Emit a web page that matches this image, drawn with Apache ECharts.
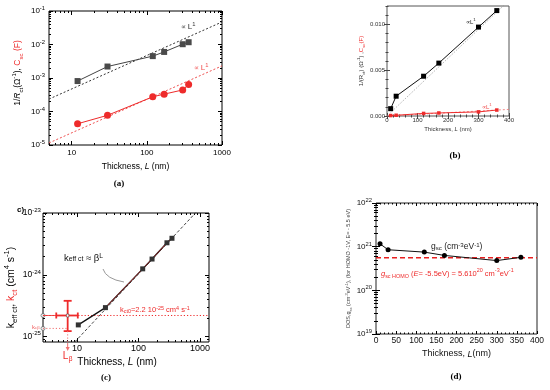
<!DOCTYPE html>
<html><head><meta charset="utf-8">
<script src="https://cdn.jsdelivr.net/npm/echarts@6/dist/echarts.min.js"></script>
<style>html,body{margin:0;padding:0;background:#fff}#c{width:550px;height:390px}</style>
</head><body><div id="c"></div>
<script>
// ---------------- DATA ----------------
// Panel (a): log-log, 1/Rct (gray squares) and Csc (red circles)
const thickA = [12, 30, 120, 170, 300, 360];
const invRctA = [8.1e-4, 2.2e-3, 4.5e-3, 6.0e-3, 1.02e-2, 1.17e-2];
const cscA = [4.3e-5, 7.7e-5, 2.75e-4, 3.3e-4, 4.4e-4, 6.4e-4];
const fitThickA = [5, 1000];
const fitRctA = [2.35e-4, 4.7e-2];
const fitCscA = [1.15e-5, 2.3e-3];

// Panel (b): linear axes
const thickB = [12, 30, 120, 170, 300, 360];
const invRctB = [0.0008, 0.00216, 0.00434, 0.00577, 0.0097, 0.0115];
const cscB = [0.00005, 0.00008, 0.00028, 0.00033, 0.00045, 0.00065];
const fitThickRctB = [12, 400];
const fitRctB = [0.00038, 0.0126];
const fitThickCscB = [0, 400];
const fitCscB = [0, 0.00072];

// Panel (c): keff ct vs thickness
const thickC = [10.5, 29, 117, 166, 290, 350];
const keffC = [1.55e-25, 2.95e-25, 1.25e-24, 1.8e-24, 3.3e-24, 3.9e-24];
const fitThickC = [9.2, 1000];
const fitKeffC = [8.2e-26, 1.2e-23];
const kct0 = 2.2e-25;
const kcBeta = 1.36e-25;
const lBeta = 7.05;
const lBetaErr = [4.6, 10.3];
const kct0Err = [1.23e-25, 3.8e-25];

// Panel (d): DOS vs thickness
const thickD = [10, 30, 120, 170, 300, 360];
const dosD = [1.16e21, 8.5e20, 7.5e20, 6.3e20, 4.8e20, 5.7e20];
const gHomo = 5.6e20;

// Axis ranges
const rangeAX = [5, 1000], rangeAY = [1e-5, 1e-1];
const rangeBX = [0, 400], rangeBY = [0, 0.012];
const rangeCX = [2.8, 1400], rangeCY = [8.2e-26, 1e-23];
const rangeDX = [0, 400], rangeDY = [1e19, 1e22];
const ticksBX = [0, 100, 200, 300, 400];
const ticksBY = [0, 0.005, 0.010];
const ticksDX = [0, 50, 100, 150, 200, 250, 300, 350, 400];
const decadesCY = [-25, -24, -23];

// ---------------- HELPERS ----------------
const FONT = '"Liberation Sans", Arial, Helvetica, sans-serif';
const SERIF = '"Liberation Serif", "Times New Roman", serif';
const RED = '#ee2b2b';
const lg = Math.log10;
const zip = (xs, ys) => xs.map((x, i) => [x, ys[i]]);

function logTicks(min, max) {
  const major = [], minor = [];
  for (let e = Math.floor(Math.log10(min)) - 1; e <= Math.ceil(Math.log10(max)); e++) {
    for (let m = 1; m < 10; m++) {
      const v = parseFloat(m + 'e' + e);
      if (v < min || v > max) continue;
      (m === 1 ? major : minor).push(v);
    }
  }
  return {major, minor};
}
function linTicks(min, max, step, majors) {
  const minor = [];
  const n = Math.round((max - min) / step);
  for (let i = 0; i <= n; i++) {
    const v = +(min + i * step).toFixed(8);
    if (!majors.some(m => Math.abs(m - v) < step / 100)) minor.push(v);
  }
  return minor;
}
function richSup(fs, color) {
  const s = Math.round(fs * 0.72 * 10) / 10;
  return {
    b: {fontSize: fs, fontFamily: FONT, color: color, lineHeight: Math.round(fs * 1.4)},
    s: {fontSize: s, fontFamily: FONT, color: color, lineHeight: s, verticalAlign: 'top'}
  };
}
function nameRich(fs, color, key) {
  key = key || 'color';
  const s = Math.round(fs * 0.72 * 10) / 10;
  const lh = Math.round(fs * 1.5);
  const mk = (o) => Object.assign({fontFamily: FONT}, o);
  const c = (col) => { const o = {}; o[key] = col; return o; };
  return {
    i: mk(Object.assign({fontSize: fs, fontStyle: 'italic', lineHeight: lh}, c(color))),
    sub: mk(Object.assign({fontSize: s, lineHeight: s, verticalAlign: 'bottom'}, c(color))),
    sup: mk(Object.assign({fontSize: s, lineHeight: s, verticalAlign: 'top'}, c(color))),
    n: mk(Object.assign({fontSize: fs, lineHeight: lh}, c(color))),
    r: mk(Object.assign({fontSize: fs, lineHeight: lh}, c(RED))),
    ri: mk(Object.assign({fontSize: fs, fontStyle: 'italic', lineHeight: lh}, c(RED))),
    rsub: mk(Object.assign({fontSize: s, lineHeight: s, verticalAlign: 'bottom'}, c(RED))),
    rsup: mk(Object.assign({fontSize: s, lineHeight: s, verticalAlign: 'top'}, c(RED)))
  };
}
const supFmt = v => '{b|10}{s|' + Math.round(Math.log10(v)) + '}';
const expFmt = v => '{b|10}{s|' + Math.round(v) + '}';

const xAxes = [], yAxes = [];
function addAxes(list, dim, grid, o) {
  const base = {gridIndex: grid, type: o.type, min: o.range[0], max: o.range[1],
    splitLine: {show: false}, axisLine: {show: false}, silent: true};
  if (o.type === 'log') base.logBase = 10;
  const pos = dim === 'x' ? ['bottom', 'top'] : ['left', 'right'];
  const tickStyle = {color: o.tickColor || '#000', width: 1};
  const idx = list.length;
  const lh = Math.round(o.nameSize * 1.5);
  list.push(Object.assign({}, base, {
    position: pos[0],
    name: o.name, nameLocation: 'middle', nameGap: o.nameGap, nameRotate: dim === 'y' ? 90 : 0,
    nameTextStyle: {fontSize: o.nameSize, color: o.nameColor || '#000', fontFamily: FONT, lineHeight: lh,
      rich: nameRich(o.nameSize, o.nameColor || '#000'), padding: o.namePad || 0},
    axisTick: {show: true, inside: true, length: o.tickLen, customValues: o.major, lineStyle: tickStyle},
    axisLabel: {show: true, customValues: o.labels || o.major, formatter: o.fmt, margin: o.margin,
      fontSize: o.labelSize, color: o.labelColor || '#000', fontFamily: FONT,
      rich: richSup(o.labelSize, o.labelColor || '#000'), showMinLabel: true, showMaxLabel: true, hideOverlap: false}
  }));
  const tk = (p, vals, len) => Object.assign({}, base, {position: p,
    axisTick: {show: true, inside: true, length: len, customValues: vals, lineStyle: tickStyle},
    axisLabel: {show: false}});
  list.push(tk(pos[0], o.minor, o.minorLen));
  list.push(tk(pos[1], o.major, o.tickLen));
  list.push(tk(pos[1], o.minor, o.minorLen));
  return idx;
}

// ---------------- GRIDS & AXES ----------------
const grids = [
  {left: 49, top: 11, width: 173, height: 134, show: true, borderColor: '#000', borderWidth: 1, backgroundColor: 'transparent'},
  {left: 387, top: 6, width: 122, height: 110, show: true, borderColor: '#555', borderWidth: 1, backgroundColor: 'transparent'},
  {left: 43, top: 213, width: 166, height: 129, show: true, borderColor: '#000', borderWidth: 1, backgroundColor: 'transparent'},
  {left: 376, top: 203, width: 161, height: 131, show: true, borderColor: '#222', borderWidth: 1, backgroundColor: 'transparent'}
];

const tAX = logTicks(rangeAX[0], rangeAX[1]), tAY = logTicks(rangeAY[0], rangeAY[1]);
const tCX = logTicks(rangeCX[0], rangeCX[1]), tCY = logTicks(rangeCY[0], rangeCY[1]);
const tDY = logTicks(rangeDY[0], rangeDY[1]);

const xA = addAxes(xAxes, 'x', 0, {type: 'log', range: rangeAX, major: tAX.major, minor: tAX.minor,
  tickLen: 4, minorLen: 2, fmt: v => String(v), margin: 4, labelSize: 8,
  name: 'Thickness, {i|L} (nm)', nameSize: 8.5, nameGap: 15});
const yA = addAxes(yAxes, 'y', 0, {type: 'log', range: rangeAY, major: tAY.major, minor: tAY.minor,
  tickLen: 4, minorLen: 2, fmt: supFmt, margin: 4, labelSize: 8,
  name: '1/{i|R}{sub|ct}(Ω{sup|-1}), {r|C}{rsub|sc}{r| (F)}', nameSize: 8.5, nameGap: 25, namePad: [0, 0, 0, 10]});

const xB = addAxes(xAxes, 'x', 1, {type: 'value', range: rangeBX, major: ticksBX, minor: linTicks(0, 400, 20, ticksBX),
  tickLen: 3, minorLen: 1.5, fmt: v => String(v), margin: 1.5, labelSize: 6, labelColor: '#333', tickColor: '#444',
  name: 'Thickness, {i|L} (nm)', nameSize: 6, nameColor: '#333', nameGap: 7});
const yB = addAxes(yAxes, 'y', 1, {type: 'value', range: rangeBY, major: ticksBY, minor: linTicks(0, 0.012, 0.001, ticksBY),
  tickLen: 3, minorLen: 1.5, fmt: v => v.toFixed(3), margin: 2, labelSize: 6, labelColor: '#333', tickColor: '#444',
  name: '1/(R{sub|ct}) (Ω{sup|-1}) ,{r|C}{rsub|sc}{r|(F)}', nameSize: 6, nameColor: '#333', nameGap: 17});

const xC = addAxes(xAxes, 'x', 2, {type: 'log', range: rangeCX, major: tCX.major, minor: tCX.minor,
  tickLen: 4, minorLen: 2, fmt: v => String(v), margin: 2.5, labelSize: 9,
  name: 'Thickness, {i|L} (nm)', nameSize: 10, nameGap: 7, namePad: [0, 18, 0, 0]});
// (c) y: values are tiny (1e-25), so this axis works in log10 space (value axis of exponents)
const yC = addAxes(yAxes, 'y', 2, {type: 'value', range: rangeCY.map(lg), major: decadesCY, minor: tCY.minor.map(lg),
  tickLen: 4, minorLen: 2, fmt: expFmt, margin: 2, labelSize: 8.5,
  name: 'k{sub|eff ct}, {r|k}{rsub|ct} (cm{sup|4} s{sup|-1})', nameSize: 10.5, nameGap: 22, namePad: [0, 20, 0, 0]});

const xD = addAxes(xAxes, 'x', 3, {type: 'value', range: rangeDX, major: ticksDX, minor: linTicks(0, 400, 10, ticksDX),
  tickLen: 3, minorLen: 1.5, fmt: v => String(v), margin: 2.5, labelSize: 8.5, labelColor: '#111',
  name: 'Thickness, {i|L}(nm)', nameSize: 9, nameColor: '#111', nameGap: 13});
const yD = addAxes(yAxes, 'y', 3, {type: 'log', range: rangeDY, major: tDY.major, minor: tDY.minor,
  tickLen: 4, minorLen: 2, fmt: supFmt, margin: 4, labelSize: 8, labelColor: '#111',
  name: 'DOS,g{sub|sc} (cm{sup|-3}eV{sup|-1}), (for HOMO -1V, E= - 5.5 eV)', nameSize: 5.5, nameColor: '#444', nameGap: 23});

// ---------------- SERIES ----------------
const L = (xi, yi, data, style, extra) => Object.assign({type: 'line', xAxisIndex: xi, yAxisIndex: yi, data: data,
  symbol: 'none', lineStyle: style, silent: true, animation: false}, extra || {});
const zipC = (xs, ys) => xs.map((x, i) => [x, lg(ys[i])]);

const series = [
  // (a)
  L(xA, yA, zip(fitThickA, fitRctA), {color: '#333', width: 1, type: [2, 2]}),
  L(xA, yA, zip(fitThickA, fitCscA), {color: '#f05050', width: 1, type: [2, 2]}),
  L(xA, yA, zip(thickA, invRctA), {color: '#444', width: 1}, {symbol: 'rect', symbolSize: 6, itemStyle: {color: '#4a4a4a'}}),
  L(xA, yA, zip(thickA, cscA), {color: RED, width: 1}, {symbol: 'circle', symbolSize: 7, itemStyle: {color: RED}}),
  // (b)
  L(xB, yB, zip(fitThickRctB, fitRctB), {color: '#888', width: 0.8, type: [1, 1.5]}),
  L(xB, yB, zip(fitThickCscB, fitCscB), {color: '#f07070', width: 0.8, type: [2, 2]}),
  L(xB, yB, zip(thickB, invRctB), {color: '#111', width: 1}, {symbol: 'rect', symbolSize: 5, itemStyle: {color: '#000'}}),
  L(xB, yB, zip(thickB, cscB), {color: RED, width: 1}, {symbol: 'rect', symbolSize: 3.5, itemStyle: {color: RED}}),
  // (c)
  L(xC, yC, zipC(fitThickC, fitKeffC), {color: '#444', width: 1, type: [3, 2]}),
  L(xC, yC, zipC(rangeCX, [kct0, kct0]), {color: RED, width: 1, type: [1.2, 2]}),
  L(xC, yC, zipC([rangeCX[0], lBetaErr[0]], [kct0, kct0]), {color: RED, width: 0.8}),
  L(xC, yC, zipC([rangeCX[0], lBeta], [kcBeta, kcBeta]), {color: '#f07070', width: 1, type: [1.2, 2]}),
  L(xC, yC, zipC([lBeta, lBeta], [kct0Err[0], rangeCY[0]]), {color: '#f07070', width: 1, type: [1.2, 2]}),
  L(xC, yC, zipC(thickC, keffC), {color: '#111', width: 1.3}, {symbol: 'rect', symbolSize: 5, itemStyle: {color: '#333'}}),
  L(xC, yC, zipC(thickC.slice(1), keffC.slice(1)), {color: '#c03030', width: 0.7}),
  {type: 'custom', xAxisIndex: xC, yAxisIndex: yC, silent: true, animation: false, clip: false,
    data: [[lBeta, lg(kct0), lBetaErr[0], lBetaErr[1], lg(kct0Err[0]), lg(kct0Err[1])]],
    renderItem: function (params, api) {
      const c = api.coord([api.value(0), api.value(1)]);
      const xl = api.coord([api.value(2), api.value(1)]), xh = api.coord([api.value(3), api.value(1)]);
      const yl = api.coord([api.value(0), api.value(4)]), yh = api.coord([api.value(0), api.value(5)]);
      const st = {stroke: RED, lineWidth: 1.8};
      const ln = (x1, y1, x2, y2) => ({type: 'line', shape: {x1, y1, x2, y2}, style: st});
      return {type: 'group', children: [
        ln(xl[0], c[1], xh[0], c[1]), ln(c[0], yl[1], c[0], yh[1]),
        ln(xl[0], c[1] - 3, xl[0], c[1] + 3), ln(xh[0], c[1] - 3, xh[0], c[1] + 3),
        ln(c[0] - 4, yl[1], c[0] + 4, yl[1]), ln(c[0] - 4, yh[1], c[0] + 4, yh[1]),
        {type: 'circle', shape: {cx: c[0], cy: c[1], r: 1.6}, style: {fill: '#fff', stroke: '#555', lineWidth: 0.8}}
      ]};
    }},
  {type: 'scatter', xAxisIndex: xC, yAxisIndex: yC, silent: true, animation: false, clip: false,
    data: zipC([rangeCX[0], rangeCX[0]], [kct0, kcBeta]), symbol: 'circle', symbolSize: 4,
    itemStyle: {color: '#fff', borderColor: '#555', borderWidth: 0.8}},
  {type: 'custom', xAxisIndex: xC, yAxisIndex: yC, silent: true, animation: false, clip: false,
    data: [[lBeta, lg(rangeCY[0])]],
    renderItem: function (params, api) {
      const p = api.coord([api.value(0), api.value(1)]);
      return {type: 'group', children: [
        {type: 'line', shape: {x1: p[0], y1: p[1] + 1, x2: p[0], y2: p[1] + 6}, style: {stroke: '#f07070', lineWidth: 1}},
        {type: 'polygon', shape: {points: [[p[0] - 2, p[1] + 5], [p[0] + 2, p[1] + 5], [p[0], p[1] + 9]]}, style: {fill: '#f07070'}},
        {type: 'text', x: p[0], y: p[1] + 14, style: {text: '{a|L}{b|β}', align: 'center', verticalAlign: 'middle',
          rich: {a: {fontSize: 10, fontFamily: FONT, fill: RED, lineHeight: 14},
                 b: {fontSize: 7, fontFamily: FONT, fill: RED, lineHeight: 7, verticalAlign: 'bottom'}}}}
      ]};
    }},
  // (d)
  L(xD, yD, zip(rangeDX, [gHomo, gHomo]), {color: '#e82020', width: 1.5, type: [5, 3]}),
  L(xD, yD, zip(thickD, dosD), {color: '#111', width: 1}, {symbol: 'circle', symbolSize: 5, itemStyle: {color: '#000'}})
];

// ---------------- TEXT ANNOTATIONS ----------------
function txt(x, y, text, fs, color, extra) {
  return Object.assign({type: 'text', x: x, y: y, silent: true,
    style: Object.assign({text: text, fontSize: fs, fontFamily: FONT, fill: color, align: 'left', verticalAlign: 'middle',
      rich: nameRich(fs, color, 'fill')}, extra || {})});
}
const graphic = [
  txt(181, 27, '∝ {n|L}{sup|1}', 6.5, '#333', {rich: nameRich(8, '#333', 'fill')}),
  txt(194, 68, '∝ {n|L}{sup|1}', 6.5, '#f05050', {rich: nameRich(8, '#f05050', 'fill')}),
  txt(119, 184, '(a)', 9, '#000', {fontFamily: SERIF, fontWeight: 'bold', align: 'center'}),
  txt(466, 22, '∝{n|L}{sup|1}', 6, '#222'),
  txt(482, 107, '∝{n|L}{sup|1}', 6, '#f05050'),
  txt(455, 156, '(b)', 9, '#000', {fontFamily: SERIF, fontWeight: 'bold', align: 'center'}),
  txt(17, 210, 'c)', 8, '#000', {fontWeight: 'bold'}),
  txt(64, 258, 'k{sub|eff ct} ≈ β{sup|L}', 9.5, '#111'),
  {type: 'bezierCurve', silent: true, shape: {x1: 103, y1: 269, cpx1: 106, cpy1: 279, x2: 124, y2: 282}, style: {stroke: '#999', lineWidth: 1, fill: null}},
  txt(120, 310, 'k{sub|ct0}=2.2 10{sup|-25} cm{sup|4} s{sup|-1}', 7.5, RED),
  txt(32, 327, 'k{sub|cβ}', 6, '#f06060'),
  txt(106, 378, '(c)', 9, '#000', {fontFamily: SERIF, fontWeight: 'bold', align: 'center'}),
  txt(431, 247, 'g{sub|sc} (cm{sup|-3}eV{sup|-1})', 8.5, '#222'),
  txt(381, 274, '{ri|g}{sub|sc HOMO} ({ri|E}= -5.5eV) = 5.610{sup|20} cm{sup|-3}eV{sup|-1}', 7.5, RED),
  txt(456, 377, '(d)', 9, '#000', {fontFamily: SERIF, fontWeight: 'bold', align: 'center'})
];

const chart = echarts.init(document.getElementById('c'), null, {renderer: 'canvas'});
chart.setOption({
  animation: false,
  backgroundColor: '#fff',
  grid: grids,
  xAxis: xAxes,
  yAxis: yAxes,
  series: series,
  graphic: graphic
});
</script>
</body></html>
